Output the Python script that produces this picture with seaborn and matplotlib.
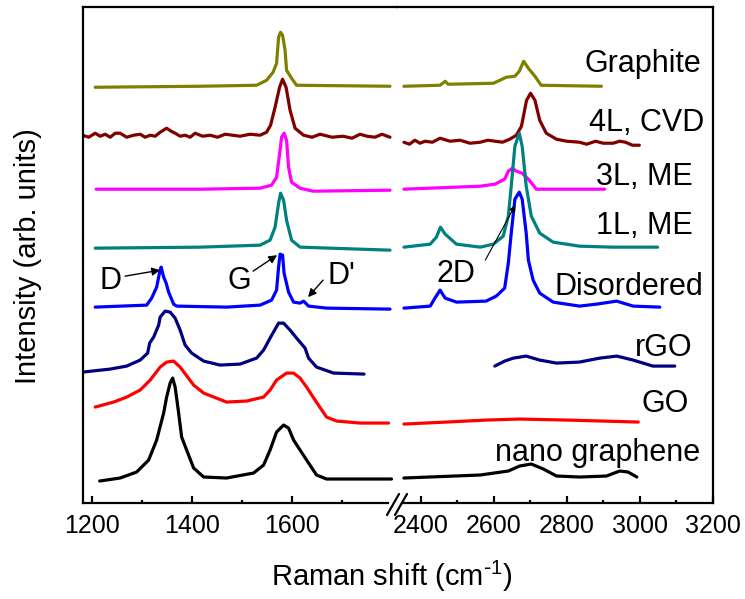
import numpy as np
import pandas as pd
import matplotlib.pyplot as plt
from matplotlib.lines import Line2D
import seaborn as sns

# Raman spectra: (shift in cm-1, stacked intensity in a.u.)
# each sample has a low-shift part (D/G region) and a high-shift part (2D region)
graphite_low = [(1206, 416), (1416, 417), (1529, 418), (1549, 423), (1562, 431), (1569, 440),
                (1573, 466), (1577, 471), (1581, 468), (1586, 453), (1589, 433), (1599, 425),
                (1609, 418), (1796, 417)]
graphite_high = [(2354, 417), (2453, 418), (2467, 422), (2475, 419), (2599, 420), (2617, 423),
                 (2634, 426), (2658, 427), (2670, 432), (2682, 442), (2695, 435), (2713, 427),
                 (2730, 418), (2895, 417)]

cvd4l_low = [(1181, 368), (1193, 366), (1206, 370), (1216, 367), (1226, 369), (1236, 366),
             (1246, 370), (1256, 370), (1269, 366), (1283, 368), (1296, 369), (1306, 366),
             (1316, 368), (1326, 367), (1336, 371), (1349, 375), (1358, 372), (1366, 370),
             (1376, 367), (1386, 368), (1396, 366), (1406, 370), (1421, 367), (1436, 368),
             (1451, 366), (1466, 369), (1481, 368), (1496, 367), (1516, 369), (1536, 368),
             (1549, 371), (1557, 378), (1566, 396), (1575, 416), (1581, 424), (1588, 416),
             (1596, 393), (1606, 375), (1623, 368), (1640, 366), (1656, 369), (1680, 366),
             (1702, 367), (1720, 365), (1736, 369), (1750, 367), (1766, 366), (1780, 369),
             (1796, 366)]
cvd4l_high = [(2354, 361), (2369, 359), (2384, 363), (2398, 360), (2412, 362), (2432, 361),
              (2453, 365), (2480, 362), (2508, 363), (2535, 360), (2563, 361), (2584, 363),
              (2604, 362), (2624, 361), (2644, 364), (2662, 368), (2676, 377), (2690, 403),
              (2701, 410), (2713, 403), (2726, 383), (2744, 370), (2772, 364), (2800, 362),
              (2835, 361), (2855, 359), (2879, 362), (2900, 360), (2927, 360), (2945, 362),
              (2961, 361), (2980, 358), (2999, 358)]

me3l_low = [(1208, 314), (1416, 314), (1536, 315), (1559, 318), (1569, 326), (1576, 353),
            (1579, 366), (1584, 370), (1589, 363), (1593, 336), (1599, 321), (1616, 315),
            (1642, 312), (1796, 313)]
me3l_high = [(2354, 314), (2563, 317), (2603, 319), (2630, 324), (2640, 332), (2651, 335),
             (2662, 332), (2678, 330), (2695, 324), (2717, 314), (2904, 314)]

me1l_low = [(1206, 255), (1416, 256), (1536, 258), (1556, 263), (1566, 276), (1573, 300),
            (1577, 310), (1583, 303), (1589, 283), (1599, 263), (1616, 256), (1796, 253)]
me1l_high = [(2354, 256), (2426, 259), (2443, 266), (2454, 276), (2467, 269), (2498, 259),
             (2563, 256), (2599, 259), (2626, 267), (2640, 287), (2648, 317), (2658, 357),
             (2670, 370), (2678, 357), (2689, 317), (2703, 287), (2726, 270), (2763, 261),
             (2835, 257), (2927, 256), (3049, 256)]

disordered_low = [(1206, 196), (1309, 198), (1319, 205), (1329, 216), (1335, 231), (1338, 236),
                  (1343, 226), (1348, 220), (1353, 211), (1363, 199), (1369, 197), (1469, 196),
                  (1536, 198), (1559, 203), (1569, 213), (1573, 236), (1576, 249), (1581, 248),
                  (1584, 230), (1593, 211), (1603, 201), (1616, 200), (1623, 202), (1633, 197),
                  (1669, 195), (1796, 194)]
disordered_high = [(2354, 195), (2426, 197), (2439, 205), (2453, 213), (2467, 205), (2498, 201),
                   (2579, 202), (2607, 207), (2630, 215), (2640, 240), (2648, 270), (2658, 304),
                   (2670, 311), (2678, 304), (2689, 270), (2695, 243), (2708, 223), (2726, 210),
                   (2763, 201), (2835, 197), (2882, 199), (2937, 202), (2982, 197), (3055, 196)]

rgo_low = [(1181, 131), (1236, 134), (1269, 137), (1296, 143), (1311, 150), (1315, 160),
           (1323, 166), (1333, 178), (1336, 186), (1346, 192), (1356, 191), (1366, 185),
           (1376, 173), (1386, 158), (1399, 150), (1423, 142), (1456, 138), (1496, 139),
           (1529, 145), (1543, 153), (1556, 165), (1573, 180), (1583, 180), (1596, 173),
           (1609, 165), (1626, 155), (1633, 145), (1649, 136), (1683, 130), (1744, 129)]
rgo_high = [(2603, 137), (2630, 142), (2654, 145), (2689, 147), (2726, 143), (2772, 140),
            (2835, 141), (2891, 145), (2937, 147), (2982, 143), (3036, 137), (3096, 137)]

go_low = [(1206, 96), (1243, 101), (1269, 106), (1296, 113), (1316, 123), (1336, 136),
          (1349, 141), (1363, 142), (1376, 136), (1403, 118), (1423, 110), (1469, 101),
          (1509, 102), (1543, 106), (1556, 113), (1569, 123), (1589, 130), (1603, 130),
          (1616, 125), (1629, 116), (1646, 103), (1669, 86), (1689, 82), (1736, 80),
          (1793, 80)]
go_high = [(2354, 79), (2471, 81), (2580, 83), (2671, 84), (2799, 83), (2996, 81)]

nano_low = [(1215, 22), (1256, 25), (1289, 31), (1313, 43), (1329, 63), (1343, 90),
            (1349, 106), (1356, 120), (1361, 125), (1366, 116), (1373, 90), (1379, 66),
            (1389, 53), (1403, 35), (1423, 26), (1469, 25), (1523, 30), (1543, 38),
            (1556, 53), (1569, 71), (1583, 78), (1593, 75), (1603, 63), (1616, 53),
            (1633, 40), (1649, 28), (1669, 24), (1799, 24)]
nano_high = [(2354, 25), (2563, 28), (2640, 32), (2671, 37), (2703, 39), (2736, 34),
             (2772, 27), (2835, 26), (2909, 27), (2945, 32), (2968, 31), (2992, 26)]

sample_names = ["Graphite", "4L, CVD", "3L, ME", "1L, ME", "Disordered", "rGO", "GO", "nano graphene"]
sample_colors = ["#808000", "#800000", "#FF00FF", "#008080", "#0000FF", "#000080", "#FF0000", "#000000"]
low_parts = [graphite_low, cvd4l_low, me3l_low, me1l_low, disordered_low, rgo_low, go_low, nano_low]
high_parts = [graphite_high, cvd4l_high, me3l_high, me1l_high, disordered_high, rgo_high, go_high, nano_high]

low_ticks = [1200, 1400, 1600]
low_minor = [1300, 1500, 1700]
high_ticks = [2400, 2600, 2800, 3000, 3200]
high_minor = [2500, 2700, 2900, 3100]


def to_frame(points, name):
    df = pd.DataFrame(points, columns=["shift", "intensity"])
    df["sample"] = name
    return df


def main():
    sns.set_theme(style="white")
    plt.rcParams["font.family"] = ["Liberation Sans", "DejaVu Sans"]
    plt.rcParams.update({
        "mathtext.default": "regular",
        "text.color": "black",
        "xtick.color": "black",
        "xtick.labelcolor": "black",
        "xtick.labelsize": 18,
        "xtick.bottom": True,
        "xtick.direction": "in",
        "axes.edgecolor": "black",
    })

    fig = plt.figure(figsize=(7.45, 5.99), dpi=100)
    W, H = 745.0, 599.0
    bottom, top = 503.0, 7.3
    ax_lo = fig.add_axes([82.7 / W, (H - bottom) / H, (397 - 82.7) / W, (bottom - top) / H])
    ax_hi = fig.add_axes([397 / W, (H - bottom) / H, (712.7 - 397) / W, (bottom - top) / H])

    for name, color, lo, hi in zip(sample_names, sample_colors, low_parts, high_parts):
        sns.lineplot(data=to_frame(lo, name), x="shift", y="intensity", ax=ax_lo,
                     color=color, lw=2.3, sort=False, estimator=None)
        sns.lineplot(data=to_frame(hi, name), x="shift", y="intensity", ax=ax_hi,
                     color=color, lw=2.3, sort=False, estimator=None)

    ax_lo.set_xlim(1181, 1810)
    ax_hi.set_xlim(2335, 3200)
    ax_lo.set_xticks(low_ticks)
    ax_lo.set_xticks(low_minor, minor=True)
    ax_hi.set_xticks(high_ticks)
    ax_hi.set_xticks(high_minor, minor=True)
    for ax in (ax_lo, ax_hi):
        ax.set_ylim(0, 496)
        ax.set_yticks([])
        ax.set_xlabel("")
        ax.set_ylabel("")
        for sp in ax.spines.values():
            sp.set_linewidth(1.6)
            sp.set_color("black")
        ax.tick_params(axis="x", which="both", bottom=True, top=False, direction="in",
                       width=1.6, colors="black")
        ax.tick_params(axis="x", which="major", length=5, labelsize=18, pad=8)
        ax.tick_params(axis="x", which="minor", length=2.2)
        ax.patch.set_alpha(0)

    ax_lo.spines["right"].set_visible(False)
    ax_hi.spines["left"].set_visible(False)
    ax_lo.spines["bottom"].set_bounds(1181, 1792)
    ax_hi.spines["bottom"].set_bounds(2350, 3200)

    # sample labels on the right
    label_x = [3169, 3178, 3145, 3144, 3175, 3145, 3134, 3166]
    label_y = [431.6, 372, 318.6, 269, 208, 147.4, 91, 42]
    for name, lx, ly in zip(sample_names, label_x, label_y):
        ax_hi.text(lx, ly, name, ha="right", va="baseline", fontsize=22, color="black")

    # band labels and arrows
    ax_lo.text(1236, 213.7, "D", ha="center", va="baseline", fontsize=22)
    ax_lo.text(1494, 213.7, "G", ha="center", va="baseline", fontsize=22)
    ax_lo.text(1670, 218.7, "D'", ha="left", va="baseline", fontsize=22)
    ax_hi.text(2443, 221.5, "2D", ha="left", va="baseline", fontsize=22)
    arrow = dict(arrowstyle="-|>", color="black", lw=1.0, mutation_scale=12, shrinkA=0, shrinkB=0)
    ax_lo.annotate("", xy=(1336, 233), xytext=(1266, 227), arrowprops=arrow)
    ax_lo.annotate("", xy=(1570, 248), xytext=(1522, 232), arrowprops=arrow)
    ax_lo.annotate("", xy=(1632, 206), xytext=(1662, 223), arrowprops=arrow)
    ax_hi.annotate("", xy=(2659, 298), xytext=(2577, 243),
                   arrowprops=dict(arrowstyle="-|>", color="black", lw=0.8,
                                   mutation_scale=9, shrinkA=0, shrinkB=0))

    # axis break marks
    for x0 in (387, 395):
        fig.add_artist(Line2D([x0 / W, (x0 + 12) / W], [(H - 515) / H, (H - 494) / H],
                              transform=fig.transFigure, color="black", lw=1.6))

    fig.text(392 / W, (H - 586) / H, r"Raman shift (cm$^{\text{-}1}$)", ha="center",
             va="baseline", fontsize=21)
    fig.text(28 / W, (H - 256) / H, "Intensity (arb. units)", rotation=90,
             ha="center", va="center", fontsize=21)

    fig.savefig("out.png", dpi=100)
    plt.close(fig)


if __name__ == "__main__":
    main()
